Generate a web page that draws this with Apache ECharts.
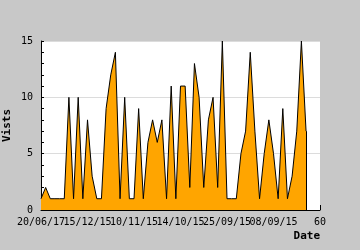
<!DOCTYPE html>
<html>
<head>
<meta charset="utf-8">
<script src="https://cdn.jsdelivr.net/npm/echarts@6/dist/echarts.min.js"></script>
<style>
html,body{margin:0;padding:0;background:#c8c8c8;}
#c{width:360px;height:250px;}
</style>
</head>
<body>
<div id="c"></div>
<script>
var xValues = [0,1,2,3,4,5,6,7,8,9,10,11,12,13,14,15,16,17,18,19,20,21,22,23,24,25,26,27,28,29,30,31,32,33,34,35,36,37,38,39,40,41,42,43,44,45,46,47,48,49,50,51,52,53,54,55,56,57];
var visits = [1,2,1,1,1,1,10,1,10,1,8,3,1,1,9,12,14,1,10,1,1,9,1,6,8,6,8,1,11,1,11,11,2,13,10,2,8,10,2,15,1,1,1,5,7,14,7,1,5,8,5,1,9,1,3,7,15,7];
var xTickLabels = ["20/06/17","15/12/15","10/11/15","14/10/15","25/09/15","08/09/15","60"];
var yTickValues = [0,5,10,15];

var points = xValues.map(function(x,i){return [x, visits[i]];});
var lastX = xValues[xValues.length-1], lastY = visits[visits.length-1];

var chart = echarts.init(document.getElementById('c'), null, {renderer:'canvas'});
var mono = 'DejaVu Sans Mono';
function labelFor(parity){
  return function(v){
    var i = Math.round(v/10);
    return (i % 2 === parity) ? xTickLabels[i] : '';
  };
}
var labelStyle = {fontFamily:mono,fontSize:10,color:'#000',margin:7,showMinLabel:true,showMaxLabel:true,hideOverlap:false};
chart.setOption({
  animation:false,
  backgroundColor:'#c8c8c8',
  grid:{left:41,right:40,top:41,bottom:40,show:true,backgroundColor:'#ffffff',borderWidth:0,containLabel:false,outerBoundsMode:'none'},
  xAxis:[{
    type:'value',min:0,max:60,interval:10,position:'bottom',
    name:'Date',nameLocation:'end',nameGap:0,nameMoveOverlap:false,
    nameTextStyle:{fontFamily:mono,fontWeight:'bold',fontSize:11,color:'#000',align:'right',verticalAlign:'top',padding:[21,0,0,0]},
    axisLine:{show:true,lineStyle:{color:'#000',width:1}},
    axisTick:{show:true,inside:true,length:5,lineStyle:{color:'#000'}},
    axisLabel:Object.assign({}, labelStyle, {formatter:labelFor(0)}),
    splitLine:{show:false}
  },{
    type:'value',min:0,max:60,interval:10,position:'bottom',
    axisLine:{show:false},axisTick:{show:false},
    axisLabel:Object.assign({}, labelStyle, {formatter:labelFor(1)}),
    splitLine:{show:false}
  }],
  yAxis:{
    type:'value',min:yTickValues[0],max:yTickValues[yTickValues.length-1],interval:5,
    name:'Vists',nameLocation:'middle',nameGap:28,nameRotate:90,nameMoveOverlap:false,
    nameTextStyle:{fontFamily:mono,fontWeight:'bold',fontSize:11,color:'#000'},
    axisLine:{show:true,lineStyle:{color:'#000',width:1}},
    axisTick:{show:true,inside:true,length:3,lineStyle:{color:'#000'}},
    minorTick:{show:true,splitNumber:5,length:3,lineStyle:{color:'#000'}},
    axisLabel:{fontFamily:mono,fontSize:10,color:'#000',margin:8,showMinLabel:true,showMaxLabel:true},
    splitLine:{show:true,lineStyle:{color:'#dcdcdc',width:1}}
  },
  series:[{
    type:'line',data:points,symbol:'none',xAxisIndex:0,
    lineStyle:{color:'#000',width:1},
    areaStyle:{color:'#ffa500',opacity:1},
    markLine:{silent:true,symbol:'none',label:{show:false},
      lineStyle:{color:'#000',width:1,type:'solid'},
      data:[[{coord:[lastX,lastY]},{coord:[lastX,0]}]]}
  }]
});
</script>
</body>
</html>
